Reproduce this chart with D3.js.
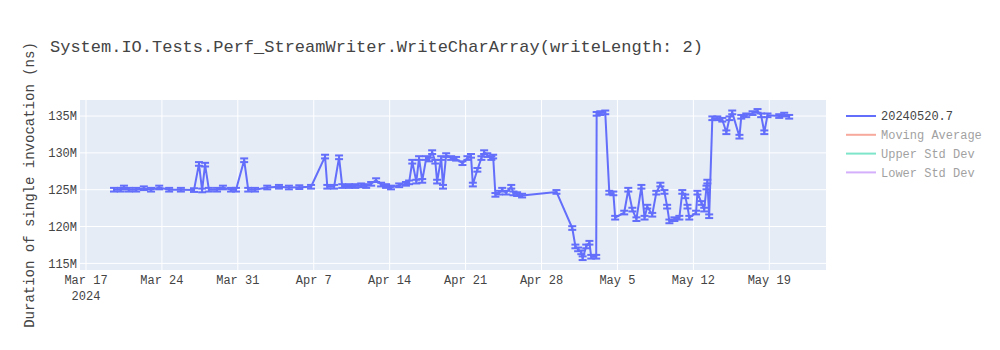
<!DOCTYPE html>
<html>
<head>
<meta charset="utf-8">
<script src="https://cdn.jsdelivr.net/npm/d3@7"></script>
<style>
  body { margin: 0; background: #fff; }
  svg { font-family: "Liberation Mono", "Courier New", monospace; }
</style>
</head>
<body>
<svg id="chart" width="1000" height="350"></svg>
<script>
// run dates (local time) and mean duration in millions of ns
const runDates = [
  '03-19 14:00','03-20 05:00','03-20 12:00','03-20 23:00','03-21 15:00','03-22 08:00','03-23 00:00','03-23 18:00',
  '03-24 16:00','03-25 18:00','03-26 23:00','03-27 10:00','03-27 17:00','03-27 23:30','03-28 08:00','03-29 02:00',
  '03-29 15:00','03-30 09:00','03-30 20:00','03-31 14:00','03-31 23:00','04-01 14:00','04-02 17:00','04-03 19:00',
  '04-04 17:00','04-05 16:00','04-06 18:00','04-08 01:00','04-08 06:00','04-08 21:00','04-09 08:00','04-09 15:00',
  '04-10 06:00','04-10 20:00','04-11 09:00','04-11 20:00','04-12 07:00','04-12 18:00','04-13 05:00','04-13 16:00',
  '04-14 03:00','04-14 21:00','04-15 12:00','04-15 19:00','04-16 02:00','04-16 11:00','04-16 17:00','04-17 00:00',
  '04-17 09:00','04-17 15:00','04-17 22:00','04-18 05:00','04-18 09:00','04-18 18:00','04-18 22:00','04-19 05:00',
  '04-19 16:00','04-20 03:00','04-20 17:00','04-21 04:00','04-21 12:00','04-21 16:00','04-22 02:00','04-22 11:00',
  '04-22 17:00','04-23 00:00','04-23 09:00','04-23 13:00','04-23 18:00','04-24 02:00','04-24 09:00','04-24 18:00',
  '04-25 05:00','04-25 10:00','04-25 18:00','04-26 05:00','04-29 09:00','04-30 20:00','05-01 03:00','05-01 09:00',
  '05-01 16:00','05-01 19:00','05-02 03:00','05-02 10:00','05-02 14:00','05-03 01:00','05-03 02:00','05-03 10:00',
  '05-03 21:00','05-04 06:00','05-04 15:00','05-04 19:00','05-05 15:00','05-06 00:00','05-06 09:00','05-06 18:00',
  '05-07 05:00','05-07 12:00','05-07 18:00','05-08 05:00','05-08 14:00','05-08 23:00','05-09 08:00','05-09 14:00',
  '05-09 19:00','05-10 06:00','05-10 17:00','05-10 23:30','05-11 06:00','05-11 11:00','05-11 15:00','05-12 06:00',
  '05-12 09:00','05-12 18:00','05-13 00:00','05-13 05:00','05-13 07:00','05-13 11:00','05-13 18:00','05-14 05:00',
  '05-14 16:00','05-15 01:00','05-15 08:00','05-15 14:00','05-16 06:00','05-16 10:00','05-16 21:00','05-17 11:00',
  '05-17 22:00','05-18 06:00','05-18 13:00','05-18 20:00','05-19 22:00','05-20 09:00','05-20 20:00'
];
const durations = [
  125.0,125.0,125.3,125.0,125.0,125.2,125.0,125.3,
  125.0,125.0,124.95,128.5,124.9,128.4,125.0,125.0,
  125.3,125.0,125.0,129.0,125.0,125.0,125.3,125.4,
  125.3,125.35,125.4,129.5,125.4,125.4,129.4,125.5,
  125.5,125.5,125.6,125.5,125.8,126.3,125.7,125.5,
  125.3,125.6,125.8,126.0,128.8,126.1,129.3,126.2,
  129.3,129.1,130.1,128.8,126.1,129.3,125.4,129.7,
  129.3,129.2,128.6,129.3,129.6,125.7,127.7,129.3,
  130.1,129.7,129.3,129.5,124.3,124.6,125.0,124.6,
  125.4,124.5,124.4,124.2,124.7,119.8,117.3,116.9,
  116.5,115.7,117.3,117.8,115.9,115.9,135.3,135.4,
  135.5,124.6,124.5,121.2,121.9,125.0,122.3,121.0,
  125.4,121.2,122.7,121.6,124.6,125.7,124.7,122.7,
  120.7,121.0,121.2,124.7,124.1,122.7,121.2,121.9,
  124.6,123.2,122.3,125.3,126.1,121.4,134.7,134.7,
  134.5,132.8,134.7,135.5,132.2,134.9,135.1,135.4,
  135.7,135.1,132.8,135.1,135.0,135.2,134.9
];
const errorHalf = 0.25; // error bars look roughly the same size everywhere

const seriesNames = ['20240520.7', 'Moving Average', 'Upper Std Dev', 'Lower Std Dev'];
const seriesColors = ['#636efa', '#EF553B', '#00cc96', '#ab63fa'];
const yTicks = [115, 120, 125, 130, 135];
const xDomain = ['2024-03-16 10:45', '2024-05-24 05:30'];
const yDomain = [114.1, 137.18];

const titleText = 'System.IO.Tests.Perf_StreamWriter.WriteCharArray(writeLength: 2)';
const yTitle = 'Duration of single invocation (ns)';

const parseRun = d3.timeParse('%Y-%m-%d %H:%M');
const points = runDates.map((d, i) => ({ date: parseRun('2024-' + d), value: durations[i] }));

const svg = d3.select('svg#chart'),
  margin = { left: 80, top: 100, right: 174, bottom: 80 },
  width = 1000 - margin.left - margin.right,
  height = 350 - margin.top - margin.bottom,
  textColor = '#444';

const x = d3.scaleTime()
  .domain(xDomain.map(parseRun))
  .range([0, width]);
const y = d3.scaleLinear()
  .domain(yDomain)
  .range([height, 0]);

const g = svg.append('g').attr('transform', `translate(${margin.left},${margin.top})`);

g.append('rect')
  .attr('width', width)
  .attr('height', height)
  .attr('fill', '#E5ECF6');

g.append('clipPath').attr('id', 'plotClip')
  .append('rect').attr('width', width).attr('height', height);

const xTicks = x.ticks(d3.timeWeek.every(1));
const fmtMonth = d3.timeFormat('%b');

// grid
g.append('g').selectAll('line').data(xTicks).enter()
  .append('line')
    .attr('x1', d => x(d)).attr('x2', d => x(d))
    .attr('y1', 0).attr('y2', height)
    .attr('stroke', '#fff').attr('stroke-width', 1);
g.append('g').selectAll('line').data(yTicks).enter()
  .append('line')
    .attr('x1', 0).attr('x2', width)
    .attr('y1', d => y(d)).attr('y2', d => y(d))
    .attr('stroke', '#fff').attr('stroke-width', 1);

// x axis labels
const xLabels = g.append('g').selectAll('text').data(xTicks).enter()
  .append('text')
    .attr('x', d => x(d))
    .attr('y', height + 14)
    .attr('text-anchor', 'middle')
    .attr('font-size', 12)
    .attr('fill', textColor);
xLabels.append('tspan')
  .attr('x', d => x(d))
  .text(d => `${fmtMonth(d)} ${d.getDate()}`);
xLabels.filter((d, i) => i === 0).append('tspan')
  .attr('x', d => x(d))
  .attr('dy', 16)
  .text(d => d.getFullYear());

// y axis labels
g.append('g').selectAll('text').data(yTicks).enter()
  .append('text')
    .attr('x', -3)
    .attr('y', d => y(d))
    .attr('dy', '0.35em')
    .attr('text-anchor', 'end')
    .attr('font-size', 12)
    .attr('fill', textColor)
    .text(d => d + 'M');

// data
const plot = g.append('g').attr('clip-path', 'url(#plotClip)');
const color = seriesColors[0];

const errs = plot.append('g').selectAll('g').data(points).enter()
  .append('g')
    .attr('stroke', color)
    .attr('stroke-width', 2);
errs.append('line')
  .attr('x1', d => x(d.date)).attr('x2', d => x(d.date))
  .attr('y1', d => y(d.value - errorHalf)).attr('y2', d => y(d.value + errorHalf));
errs.append('line')
  .attr('x1', d => x(d.date) - 4).attr('x2', d => x(d.date) + 4)
  .attr('y1', d => y(d.value + errorHalf)).attr('y2', d => y(d.value + errorHalf));
errs.append('line')
  .attr('x1', d => x(d.date) - 4).attr('x2', d => x(d.date) + 4)
  .attr('y1', d => y(d.value - errorHalf)).attr('y2', d => y(d.value - errorHalf));

const line = d3.line()
  .x(d => x(d.date))
  .y(d => y(d.value));
plot.append('path')
  .datum(points)
  .attr('d', line)
  .attr('fill', 'none')
  .attr('stroke', color)
  .attr('stroke-width', 2)
  .attr('stroke-linejoin', 'round');

// title
svg.append('text')
  .attr('x', 50)
  .attr('y', 52)
  .attr('font-size', 17)
  .attr('fill', textColor)
  .text(titleText);

svg.append('text')
  .attr('transform', `translate(34,${margin.top + height / 2}) rotate(-90)`)
  .attr('text-anchor', 'middle')
  .attr('font-size', 14)
  .attr('fill', textColor)
  .text(yTitle);

// legend; only the first trace is shown, the rest are hidden (legendonly)
const legend = svg.append('g').attr('transform', 'translate(846,116)');
const items = legend.selectAll('g').data(seriesNames).enter()
  .append('g')
    .attr('transform', (d, i) => `translate(0,${i * 18.8})`)
    .attr('opacity', (d, i) => i === 0 ? 1 : 0.5);
items.append('line')
  .attr('x1', 0).attr('x2', 30)
  .attr('stroke', (d, i) => seriesColors[i])
  .attr('stroke-width', 2);
items.append('text')
  .attr('x', 35)
  .attr('dy', '0.35em')
  .attr('font-size', 12)
  .attr('fill', textColor)
  .text(d => d);
</script>
</body>
</html>
